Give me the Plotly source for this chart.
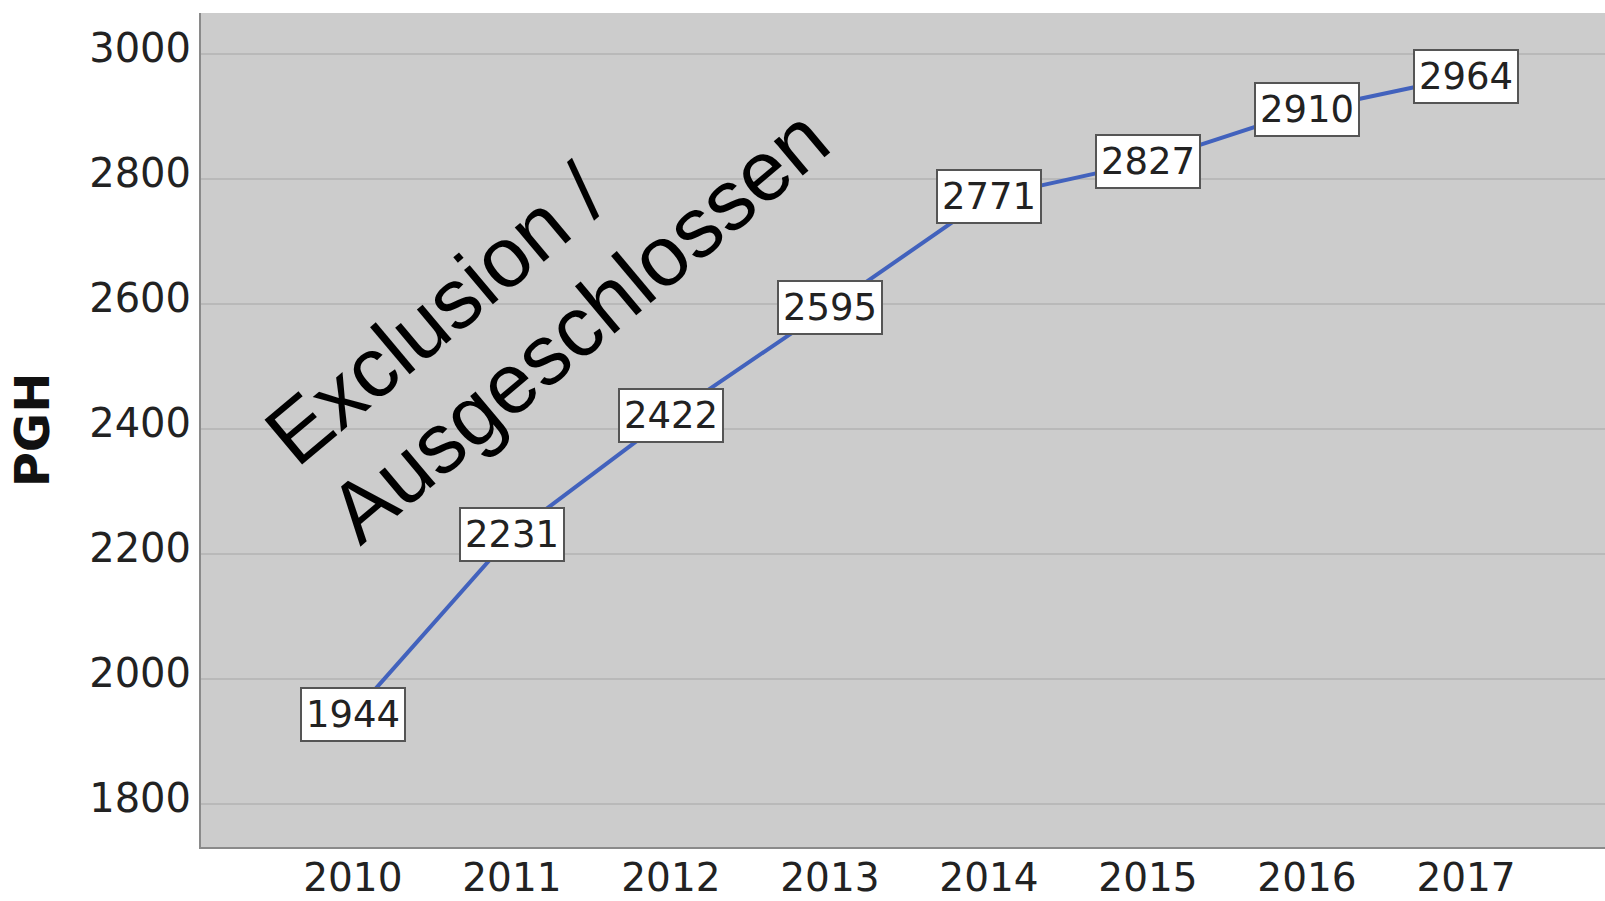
import plotly.graph_objects as go

years = [2010, 2011, 2012, 2013, 2014, 2015, 2016, 2017]
pgh = [1944, 2231, 2422, 2595, 2771, 2827, 2910, 2964]
y_ticks = [1800, 2000, 2200, 2400, 2600, 2800, 3000]
y_title = "PGH"
overlay_lines = ["Exclusion /", "Ausgeschlossen"]
overlay_pos = [(0.1668, 0.6382), (0.2686, 0.6254)]

fig = go.Figure()
fig.add_trace(go.Scatter(
    x=years, y=pgh, mode="lines",
    line=dict(color="#4262bd", width=4),
    hoverinfo="skip", showlegend=False,
))

for xv, yv in zip(years, pgh):
    fig.add_annotation(
        x=xv, y=yv, xref="x", yref="y", text=str(yv), showarrow=False,
        font=dict(family="DejaVu Sans", size=37, color="#222222"),
        bgcolor="white", bordercolor="#555555", borderwidth=2, borderpad=4,
        xanchor="center", yanchor="middle",
    )

for line, (px, py) in zip(overlay_lines, overlay_pos):
    fig.add_annotation(
        x=px, y=py, xref="paper", yref="paper", text=line,
        showarrow=False, textangle=-40,
        font=dict(family="Liberation Sans, Arial", size=85, color="black"),
        xanchor="center", yanchor="middle",
    )

fig.update_layout(
    width=1605, height=901,
    margin=dict(l=201, r=0, t=13, b=54),
    paper_bgcolor="white", plot_bgcolor="#cccccc",
    font=dict(family="DejaVu Sans", color="#222222"),
    xaxis=dict(
        range=[2009.045, 2017.874], tickvals=years, ticktext=[str(y) for y in years],
        showgrid=False, zeroline=False, showline=True, linecolor="#8a8a8a", linewidth=2,
        ticks="", tickfont=dict(size=39, color="#222222"), ticklabelstandoff=-5,
        automargin=False,
    ),
    yaxis=dict(
        range=[1732, 3065], tickvals=y_ticks,
        showgrid=True, gridcolor="#b9b9b9", gridwidth=2, zeroline=False,
        showline=True, linecolor="#8a8a8a", linewidth=2,
        ticks="", tickfont=dict(size=40, color="#222222"), ticklabelstandoff=0,
        ticklabelshift=-6, automargin=False,
        title=dict(text="<b>" + y_title + "</b>", font=dict(size=48, color="#111111"), standoff=24),
    ),
)

fig.write_html(
    "out.html",
    config={"displayModeBar": False},
    post_script="document.body.style.margin='0';document.body.style.overflow='hidden';",
)
